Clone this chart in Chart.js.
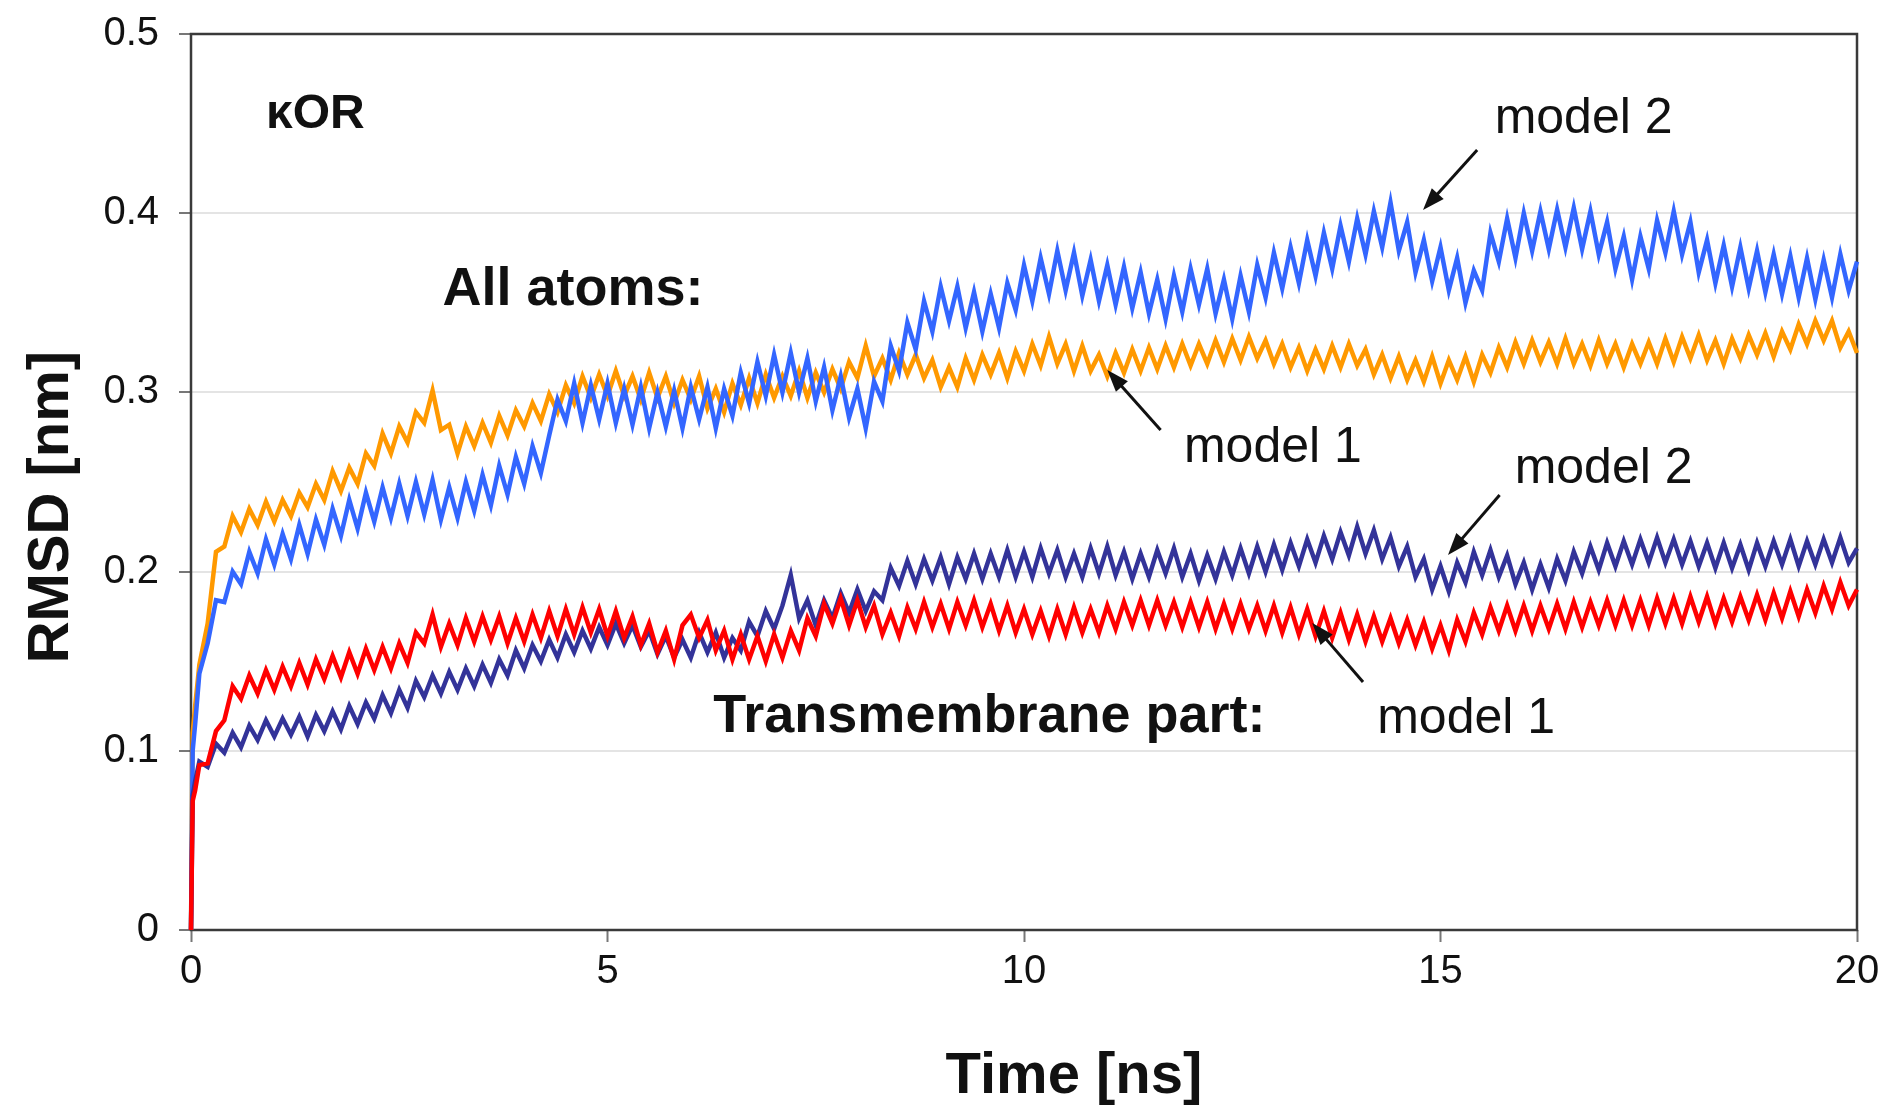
<!DOCTYPE html>
<html>
<head>
<meta charset="utf-8">
<script src="https://cdn.jsdelivr.net/npm/chart.js@4.4.1/dist/chart.umd.min.js"></script>
<style>
  html, body { margin: 0; padding: 0; background: #fff; }
  canvas { display: block; }
</style>
</head>
<body>
<canvas id="rmsdChart" width="1894" height="1114"></canvas>
<script>
// time in ns
const times = [0, 0.02, 0.05,
  0.1, 0.2, 0.3, 0.4, 0.5, 0.6, 0.7, 0.8, 0.9, 1.0,
  1.1, 1.2, 1.3, 1.4, 1.5, 1.6, 1.7, 1.8, 1.9, 2.0,
  2.1, 2.2, 2.3, 2.4, 2.5, 2.6, 2.7, 2.8, 2.9, 3.0,
  3.1, 3.2, 3.3, 3.4, 3.5, 3.6, 3.7, 3.8, 3.9, 4.0,
  4.1, 4.2, 4.3, 4.4, 4.5, 4.6, 4.7, 4.8, 4.9, 5.0,
  5.1, 5.2, 5.3, 5.4, 5.5, 5.6, 5.7, 5.8, 5.9, 6.0,
  6.1, 6.2, 6.3, 6.4, 6.5, 6.6, 6.7, 6.8, 6.9, 7.0,
  7.1, 7.2, 7.3, 7.4, 7.5, 7.6, 7.7, 7.8, 7.9, 8.0,
  8.1, 8.2, 8.3, 8.4, 8.5, 8.6, 8.7, 8.8, 8.9, 9.0,
  9.1, 9.2, 9.3, 9.4, 9.5, 9.6, 9.7, 9.8, 9.9, 10.0,
  10.1, 10.2, 10.3, 10.4, 10.5, 10.6, 10.7, 10.8, 10.9, 11.0,
  11.1, 11.2, 11.3, 11.4, 11.5, 11.6, 11.7, 11.8, 11.9, 12.0,
  12.1, 12.2, 12.3, 12.4, 12.5, 12.6, 12.7, 12.8, 12.9, 13.0,
  13.1, 13.2, 13.3, 13.4, 13.5, 13.6, 13.7, 13.8, 13.9, 14.0,
  14.1, 14.2, 14.3, 14.4, 14.5, 14.6, 14.7, 14.8, 14.9, 15.0,
  15.1, 15.2, 15.3, 15.4, 15.5, 15.6, 15.7, 15.8, 15.9, 16.0,
  16.1, 16.2, 16.3, 16.4, 16.5, 16.6, 16.7, 16.8, 16.9, 17.0,
  17.1, 17.2, 17.3, 17.4, 17.5, 17.6, 17.7, 17.8, 17.9, 18.0,
  18.1, 18.2, 18.3, 18.4, 18.5, 18.6, 18.7, 18.8, 18.9, 19.0,
  19.1, 19.2, 19.3, 19.4, 19.5, 19.6, 19.7, 19.8, 19.9, 20.0];

// RMSD in nm, all atoms, model 1 (orange)
const allAtomsModel1 = [0, 0.11, 0.125,
  0.148, 0.171, 0.211, 0.214, 0.231, 0.222, 0.235, 0.226, 0.239, 0.228,
  0.24, 0.231, 0.244, 0.236, 0.249, 0.24, 0.256, 0.245, 0.258, 0.249,
  0.266, 0.259, 0.277, 0.266, 0.281, 0.272, 0.289, 0.283, 0.301, 0.279,
  0.282, 0.266, 0.281, 0.27, 0.283, 0.272, 0.287, 0.276, 0.29, 0.281,
  0.294, 0.284, 0.299, 0.289, 0.304, 0.294, 0.309, 0.297, 0.31, 0.298,
  0.312, 0.298, 0.309, 0.296, 0.311, 0.297, 0.309, 0.294, 0.307, 0.296,
  0.309, 0.291, 0.302, 0.289, 0.305, 0.293, 0.308, 0.294, 0.31, 0.297,
  0.309, 0.298, 0.312, 0.297, 0.311, 0.3, 0.313, 0.302, 0.317, 0.308,
  0.326, 0.309, 0.319, 0.307, 0.322, 0.31, 0.321, 0.308, 0.318, 0.303,
  0.314, 0.303, 0.319, 0.307, 0.321, 0.31, 0.322, 0.308, 0.323, 0.312,
  0.327, 0.315, 0.331, 0.316, 0.327, 0.312, 0.326, 0.312, 0.321, 0.309,
  0.322, 0.311, 0.324, 0.312, 0.325, 0.313, 0.326, 0.314, 0.327, 0.315,
  0.327, 0.316, 0.329, 0.317, 0.33, 0.318, 0.331, 0.319, 0.329, 0.316,
  0.327, 0.314, 0.325, 0.312, 0.324, 0.313, 0.326, 0.314, 0.327, 0.315,
  0.324, 0.31, 0.321, 0.308, 0.32, 0.307, 0.318, 0.306, 0.32, 0.305,
  0.318, 0.307, 0.32, 0.306, 0.321, 0.311, 0.325, 0.314, 0.328, 0.316,
  0.329, 0.317, 0.328, 0.316, 0.33, 0.316, 0.327, 0.315, 0.329, 0.316,
  0.327, 0.314, 0.327, 0.316, 0.328, 0.316, 0.33, 0.317, 0.331, 0.319,
  0.332, 0.318, 0.329, 0.316, 0.33, 0.319, 0.332, 0.321, 0.333, 0.32,
  0.334, 0.324, 0.338, 0.327, 0.34, 0.329, 0.34, 0.325, 0.334, 0.322];

// all atoms, model 2 (blue)
const allAtomsModel2 = [0, 0.1, 0.115,
  0.143, 0.16, 0.184, 0.183, 0.2, 0.193, 0.211, 0.199, 0.218, 0.204,
  0.221, 0.207, 0.226, 0.21, 0.229, 0.215, 0.235, 0.22, 0.24, 0.224,
  0.244, 0.228, 0.247, 0.23, 0.249, 0.231, 0.25, 0.232, 0.251, 0.229,
  0.247, 0.23, 0.25, 0.234, 0.254, 0.237, 0.259, 0.243, 0.264, 0.249,
  0.27, 0.255, 0.276, 0.296, 0.284, 0.305, 0.283, 0.304, 0.285, 0.305,
  0.283, 0.302, 0.282, 0.303, 0.28, 0.3, 0.281, 0.301, 0.28, 0.303,
  0.285, 0.303, 0.28, 0.302, 0.287, 0.311, 0.294, 0.317, 0.298, 0.321,
  0.3, 0.322, 0.3, 0.319, 0.295, 0.314, 0.29, 0.309, 0.286, 0.302,
  0.28, 0.306, 0.295, 0.326, 0.312, 0.339, 0.324, 0.351, 0.334, 0.359,
  0.34, 0.359, 0.336, 0.356, 0.334, 0.355, 0.336, 0.361, 0.346, 0.371,
  0.351, 0.375, 0.355, 0.379, 0.357, 0.378, 0.354, 0.374, 0.351, 0.371,
  0.349, 0.37, 0.347, 0.367, 0.344, 0.363, 0.341, 0.365, 0.345, 0.369,
  0.349, 0.369, 0.344, 0.363, 0.341, 0.365, 0.345, 0.371, 0.353, 0.378,
  0.358, 0.381, 0.361, 0.385, 0.365, 0.389, 0.369, 0.393, 0.373, 0.397,
  0.377, 0.401, 0.381, 0.406, 0.379, 0.395, 0.367, 0.385, 0.362, 0.381,
  0.357, 0.375, 0.35, 0.368, 0.357, 0.389, 0.373, 0.397, 0.375, 0.4,
  0.379, 0.401, 0.38, 0.402, 0.381, 0.403, 0.38, 0.401, 0.377, 0.395,
  0.369, 0.387, 0.363, 0.387, 0.369, 0.396, 0.378, 0.401, 0.377, 0.395,
  0.367, 0.385, 0.361, 0.382, 0.359, 0.381, 0.358, 0.379, 0.356, 0.377,
  0.355, 0.376, 0.353, 0.375, 0.352, 0.374, 0.353, 0.377, 0.357, 0.373];

// transmembrane part, model 1 (red)
const tmModel1 = [0, 0.072, 0.078,
  0.092, 0.093, 0.111, 0.117, 0.136, 0.129, 0.142, 0.132, 0.145, 0.134,
  0.147, 0.136, 0.149, 0.137, 0.151, 0.14, 0.153, 0.141, 0.155, 0.143,
  0.157, 0.145, 0.158, 0.146, 0.16, 0.149, 0.166, 0.16, 0.176, 0.158,
  0.171, 0.159, 0.174, 0.161, 0.175, 0.162, 0.175, 0.16, 0.174, 0.161,
  0.176, 0.163, 0.178, 0.164, 0.179, 0.165, 0.18, 0.166, 0.179, 0.164,
  0.178, 0.163, 0.175, 0.159, 0.171, 0.155, 0.167, 0.151, 0.17, 0.176,
  0.163, 0.173, 0.156, 0.167, 0.151, 0.165, 0.151, 0.164, 0.15, 0.165,
  0.152, 0.167, 0.156, 0.174, 0.164, 0.182, 0.171, 0.185, 0.17, 0.184,
  0.169, 0.181, 0.165, 0.177, 0.164, 0.18, 0.168, 0.183, 0.169, 0.182,
  0.168, 0.183, 0.17, 0.184, 0.169, 0.182, 0.167, 0.181, 0.166, 0.179,
  0.165, 0.178, 0.164, 0.179, 0.165, 0.18, 0.166, 0.179, 0.166, 0.181,
  0.168, 0.183, 0.17, 0.184, 0.17, 0.184, 0.17, 0.183, 0.169, 0.183,
  0.169, 0.183, 0.168, 0.182, 0.168, 0.182, 0.168, 0.181, 0.167, 0.181,
  0.166, 0.18, 0.165, 0.179, 0.164, 0.178, 0.163, 0.177, 0.162, 0.176,
  0.161, 0.175, 0.161, 0.174, 0.16, 0.173, 0.159, 0.172, 0.157, 0.17,
  0.156, 0.173, 0.161, 0.177, 0.165, 0.18, 0.167, 0.181, 0.167, 0.181,
  0.167, 0.181, 0.168, 0.182, 0.168, 0.183, 0.169, 0.183, 0.17, 0.184,
  0.17, 0.184, 0.17, 0.184, 0.17, 0.185, 0.171, 0.185, 0.171, 0.186,
  0.172, 0.186, 0.171, 0.185, 0.172, 0.186, 0.173, 0.187, 0.173, 0.188,
  0.174, 0.189, 0.175, 0.19, 0.177, 0.192, 0.179, 0.194, 0.181, 0.19];

// transmembrane part, model 2 (dark blue)
const tmModel2 = [0, 0.075, 0.083,
  0.094, 0.091, 0.104, 0.099, 0.11, 0.102, 0.114, 0.106, 0.117, 0.108,
  0.118, 0.109, 0.119, 0.108, 0.12, 0.111, 0.122, 0.112, 0.125, 0.115,
  0.127, 0.118, 0.131, 0.121, 0.134, 0.124, 0.139, 0.13, 0.142, 0.132,
  0.144, 0.134, 0.146, 0.136, 0.148, 0.138, 0.151, 0.142, 0.156, 0.146,
  0.159, 0.15, 0.162, 0.152, 0.165, 0.155, 0.167, 0.157, 0.169, 0.159,
  0.171, 0.16, 0.17, 0.158, 0.167, 0.154, 0.164, 0.152, 0.162, 0.152,
  0.166, 0.155, 0.166, 0.152, 0.163, 0.156, 0.172, 0.164, 0.178, 0.168,
  0.181, 0.198, 0.174, 0.184, 0.17, 0.184, 0.174, 0.188, 0.177, 0.19,
  0.178, 0.189, 0.184, 0.202, 0.192, 0.206, 0.193, 0.207, 0.195, 0.208,
  0.193, 0.208, 0.196, 0.21, 0.196, 0.21, 0.197, 0.212, 0.197, 0.211,
  0.197, 0.213, 0.199, 0.212, 0.197, 0.21, 0.197, 0.213, 0.199, 0.214,
  0.198, 0.211, 0.196, 0.21, 0.197, 0.212, 0.199, 0.213, 0.197, 0.21,
  0.195, 0.209, 0.196, 0.211, 0.198, 0.213, 0.199, 0.214, 0.2, 0.215,
  0.201, 0.216, 0.203, 0.218, 0.205, 0.22, 0.207, 0.222, 0.209, 0.225,
  0.21, 0.223, 0.207, 0.219, 0.203, 0.214, 0.197, 0.207, 0.19, 0.203,
  0.189, 0.205, 0.194, 0.211, 0.198, 0.212, 0.197, 0.209, 0.193, 0.205,
  0.19, 0.204, 0.191, 0.207, 0.195, 0.211, 0.199, 0.214, 0.201, 0.216,
  0.203, 0.217, 0.204, 0.218, 0.205, 0.219, 0.205, 0.218, 0.204, 0.217,
  0.203, 0.216, 0.202, 0.216, 0.202, 0.215, 0.201, 0.216, 0.203, 0.217,
  0.204, 0.218, 0.203, 0.217, 0.204, 0.218, 0.205, 0.219, 0.205, 0.213];

const xTickValues = [0, 5, 10, 15, 20];
const yTickValues = [0, 0.1, 0.2, 0.3, 0.4, 0.5];

const FONT = '"Liberation Sans", Arial, sans-serif';

// text labels placed in data units (x = ns, y = nm), left aligned on baseline
const notes = [
  { text: 'κOR', x: 0.9, y: 0.4475, font: 'bold 48px ' + FONT },
  { text: 'All atoms:', x: 3.02, y: 0.3488, font: 'bold 54px ' + FONT },
  { text: 'model 2', x: 15.65, y: 0.4448, font: '50px ' + FONT },
  { text: 'model 1', x: 11.92, y: 0.2612, font: '50px ' + FONT },
  { text: 'model 2', x: 15.89, y: 0.2494, font: '50px ' + FONT },
  { text: 'Transmembrane part:', x: 6.27, y: 0.1105, font: 'bold 54px ' + FONT },
  { text: 'model 1', x: 14.24, y: 0.110, font: '50px ' + FONT }
];

const arrows = [
  { from: [15.44, 0.4353], to: [14.79, 0.4018] },
  { from: [11.64, 0.2790], to: [11.00, 0.3125] },
  { from: [15.71, 0.2427], to: [15.09, 0.2093] },
  { from: [14.07, 0.1384], to: [13.46, 0.1713] }
];

function toPoints(values) {
  return times.map((t, i) => ({ x: t, y: values[i] }));
}

const decorations = {
  id: 'decorations',
  beforeDatasetsDraw(chart) {
    const { ctx, chartArea: a } = chart;
    ctx.save();
    ctx.strokeStyle = '#3a3a3a';
    ctx.lineWidth = 2.5;
    ctx.strokeRect(a.left, a.top, a.right - a.left, a.bottom - a.top);
    ctx.restore();
  },
  afterDraw(chart) {
    const { ctx, chartArea: a, scales: { x, y } } = chart;
    ctx.save();
    ctx.fillStyle = '#111';
    ctx.strokeStyle = '#111';
    ctx.textAlign = 'left';
    ctx.textBaseline = 'alphabetic';
    notes.forEach(n => {
      ctx.font = n.font;
      ctx.fillText(n.text, x.getPixelForValue(n.x), y.getPixelForValue(n.y));
    });

    arrows.forEach(ar => {
      const x1 = x.getPixelForValue(ar.from[0]), y1 = y.getPixelForValue(ar.from[1]);
      const x2 = x.getPixelForValue(ar.to[0]), y2 = y.getPixelForValue(ar.to[1]);
      const ang = Math.atan2(y2 - y1, x2 - x1);
      const head = 22, half = 8;
      ctx.lineWidth = 3;
      ctx.beginPath();
      ctx.moveTo(x1, y1);
      ctx.lineTo(x2 - Math.cos(ang) * head * 0.8, y2 - Math.sin(ang) * head * 0.8);
      ctx.stroke();
      ctx.beginPath();
      ctx.moveTo(x2, y2);
      ctx.lineTo(x2 - head * Math.cos(ang) + half * Math.sin(ang), y2 - head * Math.sin(ang) - half * Math.cos(ang));
      ctx.lineTo(x2 - head * Math.cos(ang) - half * Math.sin(ang), y2 - head * Math.sin(ang) + half * Math.cos(ang));
      ctx.closePath();
      ctx.fill();
    });

    // axis titles
    ctx.font = 'bold 58px ' + FONT;
    ctx.textAlign = 'center';
    ctx.fillText('Time [ns]', x.getPixelForValue(10.6), a.bottom + 163);
    ctx.save();
    ctx.translate(a.left - 123, y.getPixelForValue(0.236));
    ctx.rotate(-Math.PI / 2);
    ctx.fillText('RMSD [nm]', 0, 0);
    ctx.restore();
    ctx.restore();
  }
};

const series = (label, values, color) => ({
  label,
  data: toPoints(values),
  borderColor: color,
  backgroundColor: color,
  borderWidth: 4.5,
  borderJoinStyle: 'miter',
  pointRadius: 0,
  tension: 0,
  clip: 4
});

new Chart(document.getElementById('rmsdChart'), {
  type: 'line',
  data: {
    datasets: [
      series('Transmembrane part: model 1', tmModel1, '#ff0000'),
      series('Transmembrane part: model 2', tmModel2, '#333399'),
      series('All atoms: model 2', allAtomsModel2, '#3366ff'),
      series('All atoms: model 1', allAtomsModel1, '#ff9900')
    ]
  },
  options: {
    responsive: false,
    animation: false,
    layout: { padding: { top: 34, right: 37, left: 0, bottom: 0 } },
    plugins: {
      legend: { display: false },
      tooltip: { enabled: false }
    },
    scales: {
      x: {
        type: 'linear',
        min: 0,
        max: 20,
        afterBuildTicks: s => { s.ticks = xTickValues.map(v => ({ value: v })); },
        afterFit: s => { s.height = 184; s.paddingLeft = 0; s.paddingRight = 0; },
        ticks: {
          font: { family: FONT, size: 40 },
          color: '#111',
          padding: 6,
          maxRotation: 0
        },
        grid: {
          drawOnChartArea: false,
          drawTicks: true,
          tickLength: 12,
          tickColor: '#777',
          tickWidth: 2
        },
        border: { display: false }
      },
      y: {
        type: 'linear',
        min: 0,
        max: 0.5,
        afterBuildTicks: s => { s.ticks = yTickValues.map(v => ({ value: v })); },
        afterFit: s => { s.width = 191; s.paddingTop = 0; s.paddingBottom = 0; },
        ticks: {
          font: { family: FONT, size: 40 },
          color: '#111',
          padding: 20,
          callback: v => (v === 0 ? '0' : v.toFixed(1))
        },
        grid: {
          color: '#e4e4e4',
          lineWidth: 2,
          drawTicks: true,
          tickLength: 12,
          tickColor: '#777',
          tickWidth: 2
        },
        border: { display: false }
      }
    }
  },
  plugins: [decorations]
});
</script>
</body>
</html>
